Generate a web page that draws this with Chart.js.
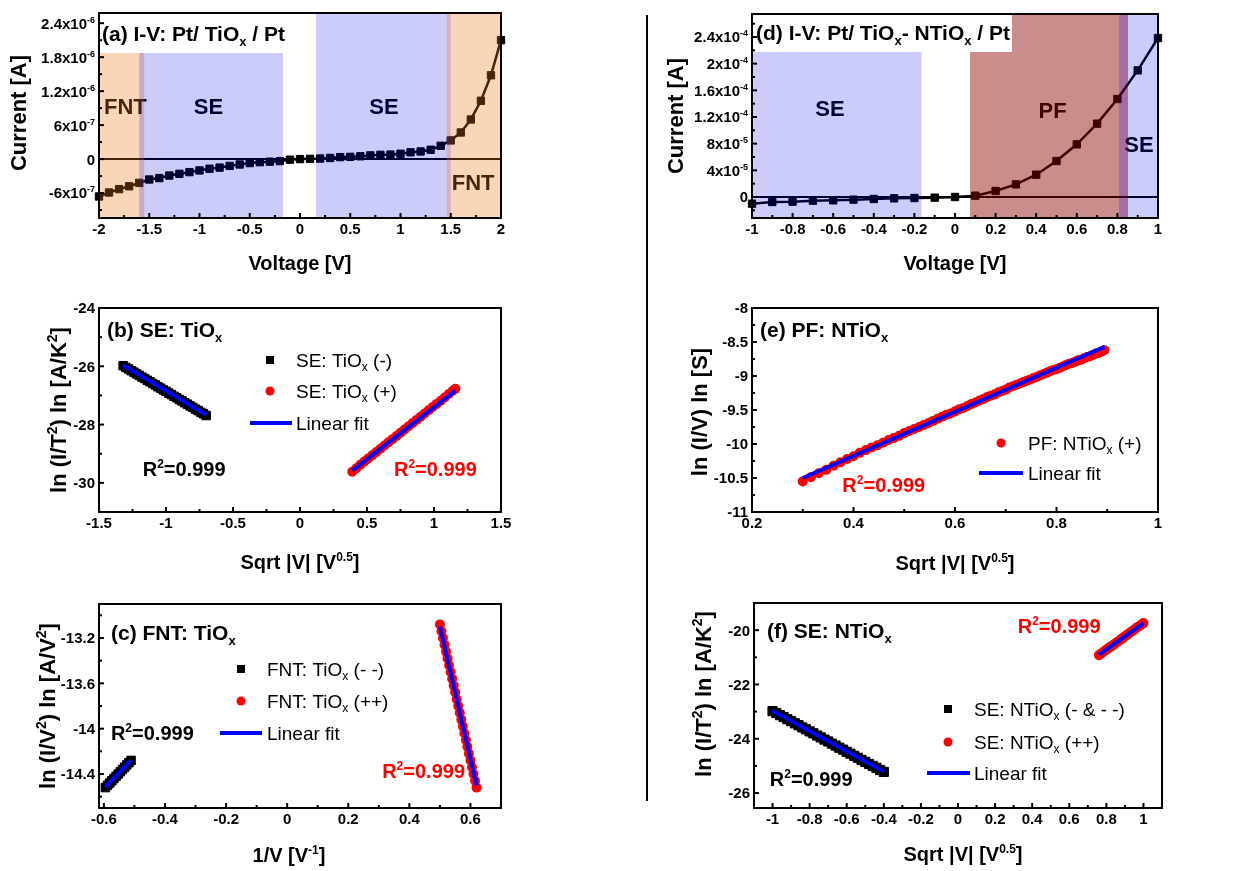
<!DOCTYPE html>
<html>
<head>
<meta charset="utf-8">
<title>I-V curves and conduction mechanism fits</title>
<script src="https://cdn.jsdelivr.net/npm/chart.js@4.4.1/dist/chart.umd.min.js"></script>
<style>
  html, body { margin: 0; padding: 0; background: #fff; }
  #fig { position: relative; width: 1251px; height: 871px; overflow: hidden; background: #fff; }
  #fig canvas { position: absolute; }
  #divider { position: absolute; left: 646px; top: 15px; width: 2px; height: 786px; background: #000; }
</style>
</head>
<body>
<div id="fig">
  <canvas id="pa" width="640" height="290" style="left:0;top:0"></canvas>
  <canvas id="pb" width="640" height="290" style="left:0;top:290px"></canvas>
  <canvas id="pc" width="640" height="291" style="left:0;top:580px"></canvas>
  <canvas id="pd" width="596" height="290" style="left:655px;top:0"></canvas>
  <canvas id="pe" width="596" height="290" style="left:655px;top:290px"></canvas>
  <canvas id="pf" width="596" height="291" style="left:655px;top:580px"></canvas>
  <div id="divider"></div>
</div>
<script>
const FONT = "'Liberation Sans', Arial, Helvetica, sans-serif";
Chart.defaults.font.family = FONT;

// (a) I-V: Pt/ TiOx / Pt
const aVoltage = [-2, -1.9, -1.8, -1.7, -1.6, -1.5, -1.4, -1.3, -1.2, -1.1, -1, -0.9, -0.8, -0.7, -0.6, -0.5, -0.4, -0.3, -0.2, -0.1,
  0, 0.1, 0.2, 0.3, 0.4, 0.5, 0.6, 0.7, 0.8, 0.9, 1, 1.1, 1.2, 1.3, 1.4, 1.5, 1.6, 1.7, 1.8, 1.9, 2];
const aCurrent = [-6.6e-7, -5.9e-7, -5.3e-7, -4.8e-7, -4.2e-7, -3.6e-7, -3.35e-7, -2.9e-7, -2.6e-7, -2.3e-7, -2.0e-7, -1.7e-7,
  -1.5e-7, -1.2e-7, -9.5e-8, -7e-8, -5.5e-8, -4.5e-8, -3.5e-8, -1e-8, 0, 5e-9, 1e-8, 2e-8, 3.5e-8, 4e-8, 5e-8, 6.5e-8, 7.5e-8,
  8e-8, 9.5e-8, 1.2e-7, 1.35e-7, 1.65e-7, 2.35e-7, 3.3e-7, 4.7e-7, 7.0e-7, 1.03e-6, 1.48e-6, 2.1e-6];
const aXTicks = [-2, -1.5, -1, -0.5, 0, 0.5, 1, 1.5, 2];
const aXLabels = ['-2', '-1.5', '-1', '-0.5', '0', '0.5', '1', '1.5', '2'];
const aYTicks = [-6e-7, 0, 6e-7, 1.2e-6, 1.8e-6, 2.4e-6];
const aYLabels = ['-6x10^{-7}', '0', '6x10^{-7}', '1.2x10^{-6}', '1.8x10^{-6}', '2.4x10^{-6}'];

// (b) SE: TiOx
const bNegX = [-1.32, -1.3, -1.28, -1.26, -1.24, -1.22, -1.2, -1.18, -1.16, -1.14, -1.12, -1.1, -1.08, -1.06, -1.04, -1.02,
  -1, -0.98, -0.96, -0.94, -0.92, -0.9, -0.88, -0.86, -0.84, -0.82, -0.8, -0.78, -0.76, -0.74, -0.72, -0.7];
const bNegY = [-25.98, -26.04, -26.09, -26.15, -26.2, -26.26, -26.31, -26.37, -26.42, -26.48, -26.53, -26.59, -26.64, -26.7,
  -26.75, -26.81, -26.86, -26.92, -26.97, -27.03, -27.08, -27.14, -27.19, -27.25, -27.3, -27.36, -27.41, -27.47, -27.52,
  -27.58, -27.63, -27.69];
const bPosX = [0.39, 0.42, 0.45, 0.48, 0.51, 0.54, 0.57, 0.6, 0.63, 0.66, 0.69, 0.72, 0.75, 0.78, 0.81, 0.84, 0.87, 0.9, 0.93,
  0.96, 0.99, 1.02, 1.05, 1.08, 1.11, 1.14, 1.16];
const bPosY = [-29.62, -29.5, -29.38, -29.27, -29.16, -29.05, -28.94, -28.83, -28.72, -28.61, -28.5, -28.39, -28.28, -28.17,
  -28.06, -27.95, -27.84, -27.73, -27.62, -27.51, -27.4, -27.29, -27.18, -27.07, -26.95, -26.84, -26.77];
const bFitNegX = [-1.32, -0.7], bFitNegY = [-25.96, -27.66];
const bFitPosX = [0.39, 1.16], bFitPosY = [-29.58, -26.84];
const bXTicks = [-1.5, -1, -0.5, 0, 0.5, 1, 1.5];
const bXLabels = ['-1.5', '-1', '-0.5', '0', '0.5', '1', '1.5'];
const bYTicks = [-30, -28, -26, -24];
const bYLabels = ['-30', '-28', '-26', '-24'];

// (c) FNT: TiOx
const cNegX = [-0.595, -0.588, -0.581, -0.574, -0.567, -0.56, -0.553, -0.546, -0.539, -0.532, -0.525, -0.518, -0.511];
const cNegY = [-14.52, -14.5, -14.48, -14.46, -14.44, -14.42, -14.4, -14.38, -14.36, -14.34, -14.32, -14.3, -14.28];
const cPosX = [0.5, 0.505, 0.51, 0.515, 0.52, 0.525, 0.53, 0.535, 0.54, 0.545, 0.55, 0.555, 0.56, 0.565, 0.57, 0.575, 0.58,
  0.585, 0.59, 0.595, 0.6, 0.605, 0.61, 0.615, 0.62];
const cPosY = [-13.08, -13.14, -13.2, -13.26, -13.32, -13.38, -13.44, -13.5, -13.56, -13.62, -13.68, -13.74, -13.8, -13.86,
  -13.92, -13.98, -14.04, -14.1, -14.16, -14.22, -14.28, -14.34, -14.4, -14.46, -14.52];
const cFitNegX = [-0.595, -0.511], cFitNegY = [-14.515, -14.28];
const cFitPosX = [0.5, 0.62], cFitPosY = [-13.1, -14.5];
const cXTicks = [-0.6, -0.4, -0.2, 0, 0.2, 0.4, 0.6];
const cXLabels = ['-0.6', '-0.4', '-0.2', '0', '0.2', '0.4', '0.6'];
const cYTicks = [-14.4, -14, -13.6, -13.2];
const cYLabels = ['-14.4', '-14', '-13.6', '-13.2'];

// (d) I-V: Pt/ TiOx- NTiOx / Pt
const dVoltage = [-1, -0.9, -0.8, -0.7, -0.6, -0.5, -0.4, -0.3, -0.2, -0.1, 0, 0.1, 0.2, 0.3, 0.4, 0.5, 0.6, 0.7, 0.8, 0.9, 1];
const dCurrent = [-1.0e-5, -7.5e-6, -7e-6, -5.5e-6, -5e-6, -4e-6, -3e-6, -2e-6, -1.5e-6, -1e-6, 0, 2e-6, 9e-6, 1.9e-5,
  3.35e-5, 5.4e-5, 7.9e-5, 1.1e-4, 1.47e-4, 1.9e-4, 2.385e-4];
const dXTicks = [-1, -0.8, -0.6, -0.4, -0.2, 0, 0.2, 0.4, 0.6, 0.8, 1];
const dXLabels = ['-1', '-0.8', '-0.6', '-0.4', '-0.2', '0', '0.2', '0.4', '0.6', '0.8', '1'];
const dYTicks = [0, 4e-5, 8e-5, 1.2e-4, 1.6e-4, 2e-4, 2.4e-4];
const dYLabels = ['0', '4x10^{-5}', '8x10^{-5}', '1.2x10^{-4}', '1.6x10^{-4}', '2x10^{-4}', '2.4x10^{-4}'];

// (e) PF: NTiOx
const ePosX = [0.3, 0.3162, 0.3317, 0.3464, 0.3606, 0.3742, 0.3873, 0.4, 0.4123, 0.4243, 0.4359, 0.4472, 0.4583, 0.469,
  0.4796, 0.4899, 0.5, 0.5099, 0.5196, 0.5292, 0.5385, 0.5477, 0.5568, 0.5657, 0.5745, 0.5831, 0.5916, 0.6, 0.6083, 0.6164,
  0.6245, 0.6325, 0.6403, 0.6481, 0.6557, 0.6633, 0.6708, 0.6782, 0.6856, 0.6928, 0.7, 0.7071, 0.7141, 0.7211, 0.728,
  0.7348, 0.7416, 0.7483, 0.755, 0.7616, 0.7681, 0.7746, 0.781, 0.7874, 0.7937, 0.8, 0.8062, 0.8124, 0.8185, 0.8246,
  0.8307, 0.8367, 0.8426, 0.8485, 0.8544, 0.8602, 0.866, 0.8718, 0.8775, 0.8832, 0.8888, 0.8944];
const ePosY = [-10.55, -10.49, -10.43, -10.38, -10.32, -10.27, -10.22, -10.18, -10.13, -10.09, -10.05, -10.02, -9.98, -9.94,
  -9.91, -9.88, -9.84, -9.81, -9.78, -9.75, -9.72, -9.69, -9.66, -9.63, -9.6, -9.57, -9.55, -9.52, -9.49, -9.47, -9.44,
  -9.41, -9.39, -9.36, -9.34, -9.31, -9.29, -9.27, -9.24, -9.22, -9.2, -9.17, -9.15, -9.13, -9.11, -9.09, -9.07, -9.05,
  -9.03, -9.01, -8.99, -8.97, -8.95, -8.93, -8.91, -8.9, -8.88, -8.86, -8.84, -8.82, -8.81, -8.79, -8.77, -8.76, -8.74,
  -8.72, -8.71, -8.69, -8.67, -8.66, -8.64, -8.62];
const eFitX = [0.3, 0.895], eFitY = [-10.5, -8.57];
const eXTicks = [0.2, 0.4, 0.6, 0.8, 1];
const eXLabels = ['0.2', '0.4', '0.6', '0.8', '1'];
const eYTicks = [-11, -10.5, -10, -9.5, -9, -8.5, -8];
const eYLabels = ['-11', '-10.5', '-10', '-9.5', '-9', '-8.5', '-8'];

// (f) SE: NTiOx
const fNegX = [-1, -0.98, -0.96, -0.94, -0.92, -0.9, -0.88, -0.86, -0.84, -0.82, -0.8, -0.78, -0.76, -0.74, -0.72, -0.7,
  -0.68, -0.66, -0.64, -0.62, -0.6, -0.58, -0.56, -0.54, -0.52, -0.5, -0.48, -0.46, -0.44, -0.42, -0.4];
const fNegY = [-22.98, -23.05, -23.13, -23.2, -23.28, -23.35, -23.43, -23.5, -23.58, -23.65, -23.73, -23.8, -23.88, -23.95,
  -24.03, -24.1, -24.18, -24.25, -24.33, -24.4, -24.48, -24.55, -24.63, -24.7, -24.78, -24.85, -24.93, -25, -25.07,
  -25.15, -25.22];
const fPosX = [0.76, 0.77, 0.78, 0.79, 0.8, 0.81, 0.82, 0.83, 0.84, 0.85, 0.86, 0.87, 0.88, 0.89, 0.9, 0.91, 0.92, 0.93, 0.94,
  0.95, 0.96, 0.97, 0.98, 0.99, 1];
const fPosY = [-20.92, -20.87, -20.82, -20.77, -20.72, -20.67, -20.62, -20.58, -20.53, -20.48, -20.43, -20.38, -20.33, -20.28,
  -20.23, -20.18, -20.13, -20.08, -20.03, -19.98, -19.93, -19.88, -19.84, -19.79, -19.74];
const fFitNegX = [-1, -0.4], fFitNegY = [-22.97, -25.21];
const fFitPosX = [0.76, 1], fFitPosY = [-20.9, -19.75];
const fXTicks = [-1, -0.8, -0.6, -0.4, -0.2, 0, 0.2, 0.4, 0.6, 0.8, 1];
const fXLabels = ['-1', '-0.8', '-0.6', '-0.4', '-0.2', '0', '0.2', '0.4', '0.6', '0.8', '1'];
const fYTicks = [-26, -24, -22, -20];
const fYLabels = ['-26', '-24', '-22', '-20'];

// shaded conduction regions
const ORANGE = 'rgba(240,120,20,0.30)';
const BLUE = 'rgba(0,0,230,0.20)';
const RED = 'rgba(140,0,0,0.45)';

// ---------- text helpers ----------
function parseRich(s) {
  const parts = [], re = /([\^_])\{([^}]*)\}/g;
  let last = 0, m;
  while ((m = re.exec(s))) {
    if (m.index > last) parts.push([s.slice(last, m.index), 'n']);
    parts.push([m[2], m[1] === '^' ? 'sup' : 'sub']);
    last = re.lastIndex;
  }
  if (last < s.length) parts.push([s.slice(last), 'n']);
  return parts;
}
function richFont(o, kind) {
  const size = kind === 'n' ? o.size : Math.round(o.size * 0.62);
  return (o.bold ? 'bold ' : '') + size + 'px ' + FONT;
}
function richWidth(ctx, s, o) {
  let w = 0;
  parseRich(s).forEach(p => { ctx.font = richFont(o, p[1]); w += ctx.measureText(p[0]).width; });
  return w;
}
// y is the vertical middle of the capitals
function richText(ctx, s, x, y, o) {
  const total = richWidth(ctx, s, o);
  let cx = o.align === 'center' ? x - total / 2 : o.align === 'right' ? x - total : x;
  const base = y + o.size * 0.36;
  ctx.save();
  ctx.fillStyle = o.color || '#000';
  ctx.textAlign = 'left';
  ctx.textBaseline = 'alphabetic';
  parseRich(s).forEach(p => {
    ctx.font = richFont(o, p[1]);
    const dy = p[1] === 'sup' ? -o.size * 0.4 : p[1] === 'sub' ? o.size * 0.24 : 0;
    ctx.fillText(p[0], cx, base + dy);
    cx += ctx.measureText(p[0]).width;
  });
  ctx.restore();
  return total;
}

function minorTicks(major, min, max) {
  const step = major[1] - major[0], out = [];
  [major[0] - step].concat(major).forEach(m => {
    const v = m + step / 2;
    if (v > min && v < max) out.push(v);
  });
  return out;
}

// ---------- drawing plugin ----------
function figPlugin(p) {
  return {
    id: 'fig',
    beforeDatasetsDraw(chart) {
      if (!p.zeroLine) return;
      const { ctx, chartArea: a, scales: { y } } = chart;
      const py = y.getPixelForValue(0);
      ctx.save();
      ctx.strokeStyle = '#000';
      ctx.lineWidth = 2;
      ctx.beginPath();
      ctx.moveTo(a.left, py);
      ctx.lineTo(a.right, py);
      ctx.stroke();
      ctx.restore();
    },
    afterDatasetsDraw(chart) {
      const { ctx, chartArea: a, scales: { x, y } } = chart;

      // region names sit under the tint
      (p.regionLabels || []).forEach(t => {
        richText(ctx, t.text, x.getPixelForValue(t.x), y.getPixelForValue(t.y),
          { size: 22, bold: true, align: t.align || 'center' });
      });

      // tinted bands
      if (p.bands) {
        ctx.save();
        ctx.beginPath();
        ctx.rect(a.left, a.top, a.width, a.height);
        ctx.clip();
        p.bands.forEach(b => {
          const x0 = x.getPixelForValue(b.x0), x1 = x.getPixelForValue(b.x1);
          ctx.fillStyle = b.color;
          ctx.fillRect(x0, a.top, x1 - x0, a.height);
        });
        ctx.restore();
      }

      // panel title
      const t = p.title, tOpt = { size: 21, bold: true };
      if (t.box) {
        const w = richWidth(ctx, t.text, tOpt);
        ctx.fillStyle = '#fff';
        ctx.fillRect(a.left, a.top, t.dx + w + 2, t.dy + 20);
      }
      richText(ctx, t.text, a.left + t.dx, a.top + t.dy, tOpt);

      // R² notes
      (p.notes || []).forEach(n => {
        richText(ctx, n.text, x.getPixelForValue(n.x), y.getPixelForValue(n.y),
          { size: 20, bold: true, color: n.color, align: 'left' });
      });

      // legend
      (p.legend || []).forEach(it => {
        const lx = a.left + it.x, ly = a.top + it.y;
        ctx.save();
        if (it.type === 'square') {
          ctx.fillStyle = '#000';
          ctx.fillRect(lx - 4, ly - 4, 8, 8);
        } else if (it.type === 'circle') {
          ctx.fillStyle = '#ff0000';
          ctx.beginPath();
          ctx.arc(lx, ly, 4.5, 0, Math.PI * 2);
          ctx.fill();
        } else {
          ctx.strokeStyle = '#0000ff';
          ctx.lineWidth = 4;
          ctx.beginPath();
          ctx.moveTo(lx, ly);
          ctx.lineTo(a.left + it.x2, ly);
          ctx.stroke();
        }
        ctx.restore();
        richText(ctx, it.text, a.left + it.tx, ly, { size: 19, bold: false });
      });

      // frame and inward ticks
      ctx.save();
      ctx.strokeStyle = '#000';
      ctx.lineWidth = 2;
      ctx.strokeRect(a.left, a.top, a.width, a.height);
      const tick = (x0, y0, x1, y1) => { ctx.beginPath(); ctx.moveTo(x0, y0); ctx.lineTo(x1, y1); ctx.stroke(); };
      p.x.ticks.forEach(v => { const px = x.getPixelForValue(v); tick(px, a.bottom, px, a.bottom - 5); });
      minorTicks(p.x.ticks, p.x.min, p.x.max).forEach(v => { const px = x.getPixelForValue(v); tick(px, a.bottom, px, a.bottom - 3); });
      p.y.ticks.forEach(v => { const py = y.getPixelForValue(v); tick(a.left, py, a.left + 5, py); });
      minorTicks(p.y.ticks, p.y.min, p.y.max).forEach(v => { const py = y.getPixelForValue(v); tick(a.left, py, a.left + 3, py); });
      ctx.restore();

      // y tick labels (with exponents)
      p.y.ticks.forEach((v, i) => {
        richText(ctx, p.y.labels[i], a.left - 4, y.getPixelForValue(v), { size: 15, bold: true, align: 'right' });
      });

      // axis titles
      richText(ctx, p.xTitle.text, p.xTitle.x, p.xTitle.y, { size: 20, bold: true, align: 'center' });
      ctx.save();
      ctx.translate(p.yTitle.x, p.yTitle.y);
      ctx.rotate(-Math.PI / 2);
      richText(ctx, p.yTitle.text, 0, 0, { size: 22, bold: true, align: 'center' });
      ctx.restore();
    }
  };
}

// ---------- datasets ----------
const pts = (xs, ys) => xs.map((v, i) => ({ x: v, y: ys[i] }));
const squares = (xs, ys, r) => ({ data: pts(xs, ys), pointStyle: 'rect', pointRadius: r, backgroundColor: '#000', borderColor: '#000', borderWidth: 1, order: 2 });
const circles = (xs, ys) => ({ data: pts(xs, ys), pointStyle: 'circle', pointRadius: 5, backgroundColor: '#ff0000', borderColor: '#ff0000', borderWidth: 0, order: 2 });
const fitLine = (xs, ys) => ({ data: pts(xs, ys), showLine: true, pointRadius: 0, borderColor: '#0000ff', borderWidth: 4, order: 1 });
const ivLine = (xs, ys) => ({ data: pts(xs, ys), showLine: true, borderColor: '#000', borderWidth: 2.5, pointStyle: 'rect', pointRadius: 5.2, backgroundColor: '#000', pointBackgroundColor: '#000', pointBorderColor: '#000', pointBorderWidth: 1, clip: false });

function makePanel(id, p) {
  const canvas = document.getElementById(id);
  const W = canvas.width, H = canvas.height, XH = 30;
  return new Chart(canvas, {
    type: 'scatter',
    data: { datasets: p.datasets },
    options: {
      responsive: false,
      animation: false,
      devicePixelRatio: 1,
      events: [],
      layout: { padding: { left: 0, top: p.plot.t, right: W - p.plot.r, bottom: H - p.plot.b - XH } },
      plugins: { legend: { display: false }, tooltip: { enabled: false } },
      scales: {
        x: {
          type: 'linear', min: p.x.min, max: p.x.max,
          grid: { display: false, drawTicks: false }, border: { display: false },
          afterBuildTicks: s => { s.ticks = p.x.ticks.map(v => ({ value: v })); },
          afterFit: s => { s.height = XH; },
          ticks: { autoSkip: false, maxRotation: 0, padding: 3, color: '#000', font: { size: 15, weight: 'bold' },
            callback: (v, i) => p.x.labels[i] }
        },
        y: {
          type: 'linear', min: p.y.min, max: p.y.max,
          grid: { display: false, drawTicks: false }, border: { display: false },
          afterBuildTicks: s => { s.ticks = p.y.ticks.map(v => ({ value: v })); },
          afterFit: s => { s.width = p.plot.l; },
          ticks: { display: false }
        }
      }
    },
    plugins: [figPlugin(p)]
  });
}

makePanel('pa', {
  plot: { l: 99, t: 13, r: 501, b: 218 },
  x: { min: -2, max: 2, ticks: aXTicks, labels: aXLabels },
  y: { min: -1.04e-6, max: 2.58e-6, ticks: aYTicks, labels: aYLabels },
  datasets: [ivLine(aVoltage, aCurrent)],
  zeroLine: true,
  bands: [
    { x0: -2, x1: -1.55, color: ORANGE }, { x0: -1.6, x1: -0.17, color: BLUE },
    { x0: 0.16, x1: 1.5, color: BLUE }, { x0: 1.46, x1: 2, color: ORANGE }
  ],
  regionLabels: [
    { text: 'FNT', x: -1.95, y: 9.3e-7, align: 'left' }, { text: 'SE', x: -0.91, y: 9.3e-7 },
    { text: 'SE', x: 0.836, y: 9.3e-7 }, { text: 'FNT', x: 1.51, y: -4.1e-7, align: 'left' }
  ],
  title: { text: '(a) I-V: Pt/ TiO_{x} / Pt', dx: 3, dy: 20, box: true },
  xTitle: { text: 'Voltage [V]', x: 300, y: 263 },
  yTitle: { text: 'Current [A]', x: 18, y: 113 }
});

makePanel('pb', {
  plot: { l: 99, t: 18, r: 501, b: 222 },
  x: { min: -1.5, max: 1.5, ticks: bXTicks, labels: bXLabels },
  y: { min: -31, max: -24, ticks: bYTicks, labels: bYLabels },
  datasets: [fitLine(bFitNegX, bFitNegY), fitLine(bFitPosX, bFitPosY), squares(bNegX, bNegY, 6), circles(bPosX, bPosY)],
  title: { text: '(b) SE: TiO_{x}', dx: 8, dy: 21 },
  legend: [
    { type: 'square', x: 171, y: 52, tx: 197, text: 'SE: TiO_{x} (-)' },
    { type: 'circle', x: 171, y: 83, tx: 197, text: 'SE: TiO_{x} (+)' },
    { type: 'line', x: 151, x2: 193, y: 115, tx: 197, text: 'Linear fit' }
  ],
  notes: [
    { text: 'R^{2}=0.999', x: -1.174, y: -29.51, color: '#000' },
    { text: 'R^{2}=0.999', x: 0.701, y: -29.51, color: '#ff0000' }
  ],
  xTitle: { text: 'Sqrt |V| [V^{0.5}]', x: 300, y: 272 },
  yTitle: { text: 'ln (I/T^{2}) ln [A/K^{2}]', x: 58, y: 120 }
});

makePanel('pc', {
  plot: { l: 99, t: 24, r: 501, b: 228 },
  x: { min: -0.616, max: 0.7, ticks: cXTicks, labels: cXLabels },
  y: { min: -14.7, max: -12.9, ticks: cYTicks, labels: cYLabels },
  datasets: [fitLine(cFitNegX, cFitNegY), fitLine(cFitPosX, cFitPosY), squares(cNegX, cNegY, 6), circles(cPosX, cPosY)],
  title: { text: '(c) FNT: TiO_{x}', dx: 12, dy: 28 },
  legend: [
    { type: 'square', x: 142, y: 65, tx: 168, text: 'FNT: TiO_{x} (- -)' },
    { type: 'circle', x: 142, y: 97, tx: 168, text: 'FNT: TiO_{x} (++)' },
    { type: 'line', x: 121, x2: 163, y: 129, tx: 168, text: 'Linear fit' }
  ],
  notes: [
    { text: 'R^{2}=0.999', x: -0.577, y: -14.04, color: '#000' },
    { text: 'R^{2}=0.999', x: 0.311, y: -14.373, color: '#ff0000' }
  ],
  xTitle: { text: '1/V [V^{-1}]', x: 289, y: 275 },
  yTitle: { text: 'ln (I/V^{2}) ln [A/V^{2}]', x: 47, y: 126 }
});

makePanel('pd', {
  plot: { l: 97, t: 14, r: 503, b: 218 },
  x: { min: -1, max: 1, ticks: dXTicks, labels: dXLabels },
  y: { min: -3.15e-5, max: 2.745e-4, ticks: dYTicks, labels: dYLabels },
  datasets: [ivLine(dVoltage, dCurrent)],
  zeroLine: true,
  bands: [
    { x0: -1, x1: -0.165, color: BLUE }, { x0: 0.074, x1: 0.852, color: RED }, { x0: 0.808, x1: 1, color: BLUE }
  ],
  regionLabels: [
    { text: 'SE', x: -0.616, y: 1.335e-4 }, { text: 'PF', x: 0.481, y: 1.31e-4 }, { text: 'SE', x: 0.906, y: 8.0e-5 }
  ],
  title: { text: '(d) I-V: Pt/ TiO_{x}- NTiO_{x} / Pt', dx: 4, dy: 18, box: true },
  xTitle: { text: 'Voltage [V]', x: 300, y: 263 },
  yTitle: { text: 'Current [A]', x: 20, y: 116 }
});

makePanel('pe', {
  plot: { l: 97, t: 18, r: 503, b: 222 },
  x: { min: 0.2, max: 1, ticks: eXTicks, labels: eXLabels },
  y: { min: -11, max: -8, ticks: eYTicks, labels: eYLabels },
  datasets: [fitLine(eFitX, eFitY), circles(ePosX, ePosY)],
  title: { text: '(e) PF: NTiO_{x}', dx: 8, dy: 21 },
  legend: [
    { type: 'circle', x: 249, y: 135, tx: 276, text: 'PF: NTiO_{x} (+)' },
    { type: 'line', x: 227, x2: 271, y: 165, tx: 276, text: 'Linear fit' }
  ],
  notes: [{ text: 'R^{2}=0.999', x: 0.378, y: -10.606, color: '#ff0000' }],
  xTitle: { text: 'Sqrt |V| [V^{0.5}]', x: 300, y: 273 },
  yTitle: { text: 'ln (I/V) ln [S]', x: 44, y: 122 }
});

makePanel('pf', {
  plot: { l: 99, t: 23, r: 507, b: 228 },
  x: { min: -1.1, max: 1.1, ticks: fXTicks, labels: fXLabels },
  y: { min: -26.55, max: -19, ticks: fYTicks, labels: fYLabels },
  datasets: [fitLine(fFitNegX, fFitNegY), fitLine(fFitPosX, fFitPosY), squares(fNegX, fNegY, 6.5), circles(fPosX, fPosY)],
  title: { text: '(f) SE: NTiO_{x}', dx: 13, dy: 27 },
  legend: [
    { type: 'square', x: 194, y: 106, tx: 220, text: 'SE: NTiO_{x} (- & - -)' },
    { type: 'circle', x: 194, y: 139, tx: 220, text: 'SE: NTiO_{x} (++)' },
    { type: 'line', x: 173, x2: 216, y: 170, tx: 220, text: 'Linear fit' }
  ],
  notes: [
    { text: 'R^{2}=0.999', x: 0.322, y: -19.84, color: '#ff0000' },
    { text: 'R^{2}=0.999', x: -1.015, y: -25.48, color: '#000' }
  ],
  xTitle: { text: 'Sqrt |V| [V^{0.5}]', x: 308, y: 274 },
  yTitle: { text: 'ln (I/T^{2}) ln [A/K^{2}]', x: 48, y: 114 }
});
</script>
</body>
</html>
